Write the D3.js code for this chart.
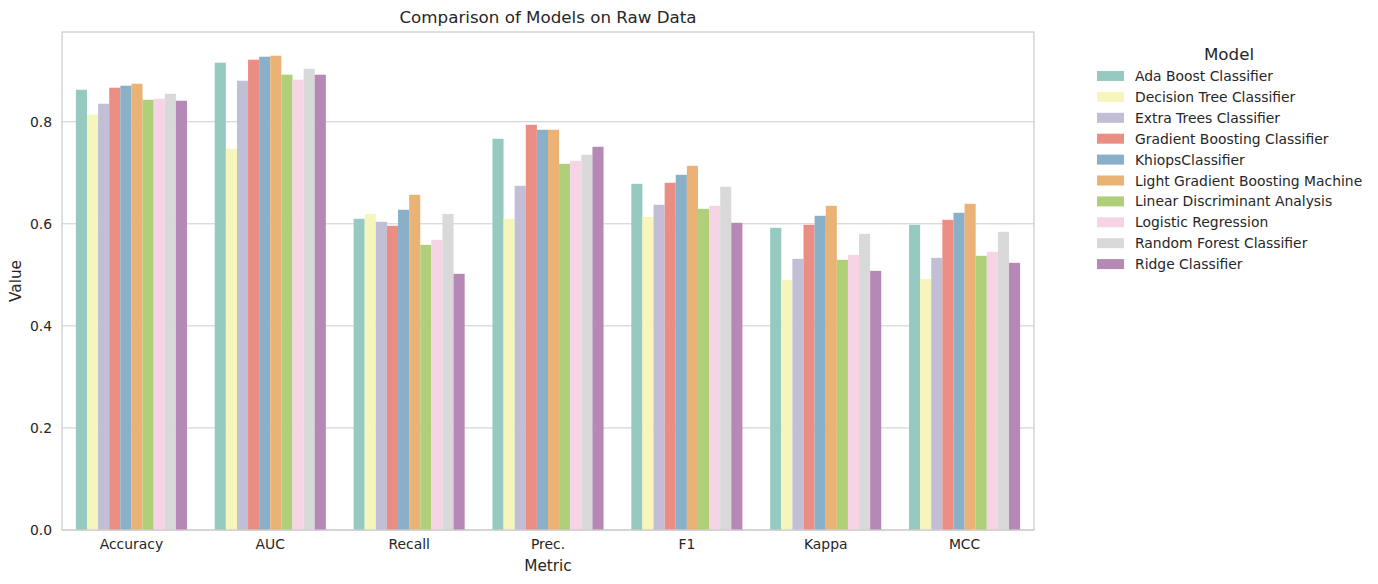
<!DOCTYPE html>
<html lang="en">
<head>
<meta charset="UTF-8">
<title>Comparison of Models on Raw Data</title>
<script src="https://cdn.jsdelivr.net/npm/d3@7"></script>
<style>
  body { margin: 0; background: #fff; }
  text { font-family: "DejaVu Sans", sans-serif; fill: #262626; }
</style>
</head>
<body>
<script>
// metrics on the x axis
var metrics = ["Accuracy", "AUC", "Recall", "Prec.", "F1", "Kappa", "MCC"];
var models = ["Ada Boost Classifier", "Decision Tree Classifier", "Extra Trees Classifier",
  "Gradient Boosting Classifier", "KhiopsClassifier", "Light Gradient Boosting Machine",
  "Linear Discriminant Analysis", "Logistic Regression", "Random Forest Classifier", "Ridge Classifier"];

// one array per model, values in metric order
var adaBoost      = [0.8627, 0.9157, 0.6098, 0.7667, 0.6784, 0.5922, 0.5980];
var decisionTree  = [0.8137, 0.7471, 0.6196, 0.6098, 0.6137, 0.4902, 0.4922];
var extraTrees    = [0.8353, 0.8804, 0.6039, 0.6745, 0.6373, 0.5314, 0.5333];
var gradBoosting  = [0.8667, 0.9216, 0.5961, 0.7941, 0.6804, 0.5980, 0.6078];
var khiops        = [0.8706, 0.9275, 0.6275, 0.7843, 0.6961, 0.6157, 0.6216];
var lightGbm      = [0.8745, 0.9294, 0.6569, 0.7843, 0.7137, 0.6353, 0.6392];
var lda           = [0.8431, 0.8922, 0.5588, 0.7176, 0.6294, 0.5294, 0.5373];
var logistic      = [0.8451, 0.8824, 0.5686, 0.7235, 0.6353, 0.5392, 0.5451];
var randomForest  = [0.8549, 0.9039, 0.6196, 0.7353, 0.6725, 0.5804, 0.5843];
var ridge         = [0.8412, 0.8922, 0.5020, 0.7510, 0.6020, 0.5078, 0.5235];
var series = [adaBoost, decisionTree, extraTrees, gradBoosting, khiops, lightGbm, lda, logistic, randomForest, ridge];

var yTicks = [0, 0.2, 0.4, 0.6, 0.8];
var set3 = ["#8dd3c7", "#ffffb3", "#bebada", "#fb8072", "#80b1d3", "#fdb462", "#b3de69", "#fccde5", "#d9d9d9", "#bc80bd"];

// seaborn desaturates the palette to 0.75
var colors = set3.map(function(c){ var h = d3.hsl(c); h.s *= 0.75; return h.formatHex(); });

var W = 1378, H = 584;
var pLeft = 62, pRight = 1034, pTop = 32, pBottom = 530;

var svg = d3.select("body").append("svg").attr("width", W).attr("height", H);

var x = d3.scaleBand().domain(metrics).range([pLeft, pRight]).paddingInner(0.2).paddingOuter(0.1);
var xm = d3.scaleBand().domain(models).range([0, x.bandwidth()]);
var maxV = d3.max(series, function(s){ return d3.max(s); });
var y = d3.scaleLinear().domain([0, maxV * 1.05]).range([pBottom, pTop]);

// grid
svg.append("g").selectAll("line").data(yTicks).enter().append("line")
  .attr("x1", pLeft).attr("x2", pRight)
  .attr("y1", function(d){ return y(d); }).attr("y2", function(d){ return y(d); })
  .attr("stroke", "#cccccc").attr("stroke-width", 1);

// bars
var rows = [];
series.forEach(function(s, i){
  s.forEach(function(v, j){ rows.push({model: models[i], metric: metrics[j], value: v, c: i}); });
});
svg.append("g").selectAll("rect").data(rows).enter().append("rect")
  .attr("x", function(d){ return x(d.metric) + xm(d.model); })
  .attr("width", xm.bandwidth())
  .attr("y", function(d){ return y(d.value); })
  .attr("height", function(d){ return y(0) - y(d.value); })
  .attr("fill", function(d){ return colors[d.c]; });

// frame
svg.append("rect").attr("x", pLeft).attr("y", pTop).attr("width", pRight - pLeft).attr("height", pBottom - pTop)
  .attr("fill", "none").attr("stroke", "#cccccc").attr("stroke-width", 1.25);

// axes
var yAxis = d3.axisLeft(y).tickValues(yTicks).tickFormat(d3.format(".1f")).tickSize(0).tickPadding(10);
var gy = svg.append("g").attr("transform", "translate(" + pLeft + ",0)").call(yAxis);
var xAxis = d3.axisBottom(x).tickSize(0).tickPadding(9);
var gx = svg.append("g").attr("transform", "translate(0," + pBottom + ")").call(xAxis);
[gx, gy].forEach(function(g){
  g.select(".domain").remove();
  g.selectAll("text").style("font-size", "13.9px").style("font-family", "DejaVu Sans").attr("fill", "#262626");
});

svg.append("text").attr("x", (pLeft + pRight) / 2).attr("y", 23).attr("text-anchor", "middle")
  .style("font-size", "16.7px").text("Comparison of Models on Raw Data");
svg.append("text").attr("x", (pLeft + pRight) / 2).attr("y", 571).attr("text-anchor", "middle")
  .style("font-size", "15.3px").text("Metric");
svg.append("text").attr("transform", "translate(21," + (pTop + pBottom) / 2 + ") rotate(-90)")
  .attr("text-anchor", "middle").style("font-size", "15.3px").text("Value");

// legend
var lg = svg.append("g").attr("transform", "translate(1097,0)");
lg.append("text").attr("x", 132).attr("y", 60).attr("text-anchor", "middle")
  .style("font-size", "16.7px").text("Model");
var item = lg.selectAll("g.item").data(models).enter().append("g").attr("class", "item")
  .attr("transform", function(d, i){ return "translate(0," + (76 + i * 20.9) + ")"; });
item.append("rect").attr("x", 0).attr("y", -5).attr("width", 27).attr("height", 10)
  .attr("fill", function(d, i){ return colors[i]; });
item.append("text").attr("x", 38).attr("y", 5).style("font-size", "13.9px").text(function(d){ return d; });
</script>
</body>
</html>
